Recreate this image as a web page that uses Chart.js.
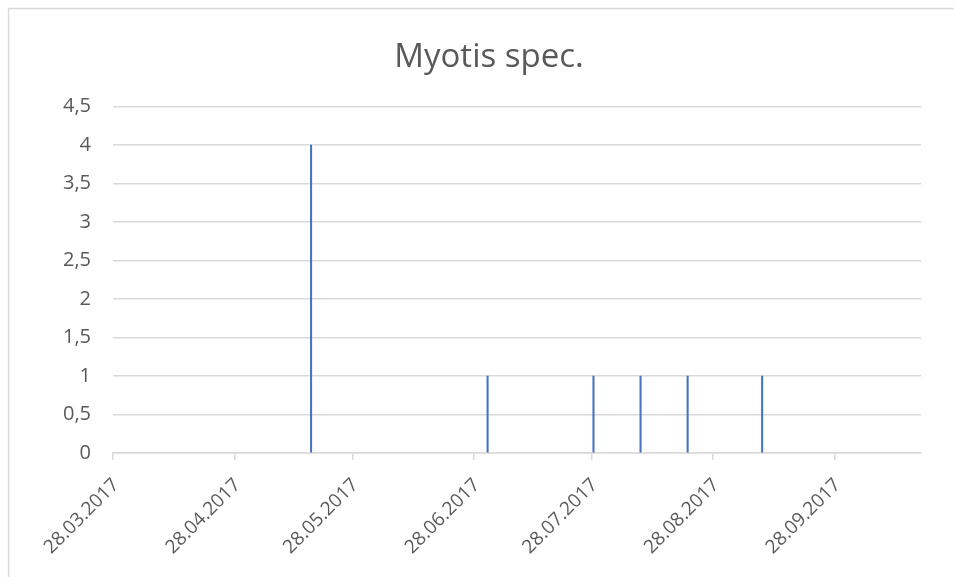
<!DOCTYPE html>
<html>
<head>
<meta charset="utf-8">
<script src="https://cdn.jsdelivr.net/npm/chart.js@4/dist/chart.umd.min.js"></script>
<style>
    html, body { margin: 0; padding: 0; background: #fff; }
    #wrap { width: 954px; height: 577px; position: relative; }
</style>
</head>
<body>
<div id="wrap"><canvas id="myotisChart" width="954" height="577"></canvas></div>
<script>
const chartTitle = 'Myotis spec.';
const visitDates = ['17.05.2017', '01.07.2017', '28.07.2017', '09.08.2017', '21.08.2017', '09.09.2017'];
const myotisCounts = [4, 1, 1, 1, 1, 1];
const tickDates = ['28.03.2017', '28.04.2017', '28.05.2017', '28.06.2017', '28.07.2017', '28.08.2017', '28.09.2017'];
const axisStart = '28.03.2017';
const axisEnd = '20.10.2017';
const yMin = 0, yMax = 4.5, yStep = 0.5;

/* ---------- Helpers ---------- */
function parseDay(str) {
    const [d, m, y] = str.split('.').map(Number);
    return Date.UTC(y, m - 1, d) / 86400000;
}
const day0 = parseDay(axisStart);
function dayIndex(str) {
    return parseDay(str) - day0;
}
function formatDay(idx) {
    const d = new Date((day0 + idx) * 86400000);
    const dd = String(d.getUTCDate()).padStart(2, '0');
    const mm = String(d.getUTCMonth() + 1).padStart(2, '0');
    return `${dd}.${mm}.${d.getUTCFullYear()}`;
}
function commaNum(v) {
    return String(v).replace('.', ',');
}

const GRID = '#d9d9d9';
const TEXT = '#595959';
const FONT = "'Open Sans', 'Liberation Sans', sans-serif";

// bars sit in the middle of their day slot, like a date axis in Excel
const points = visitDates.map((d, i) => ({ x: dayIndex(d) + 0.5, y: myotisCounts[i] }));

const frame = {
    id: 'frame',
    beforeDraw(chart) {
        const ctx = chart.ctx;
        ctx.save();
        ctx.strokeStyle = GRID;
        ctx.lineWidth = 1.5;
        ctx.beginPath();
        ctx.moveTo(8.5, chart.height);
        ctx.lineTo(8.5, 8.5);
        ctx.lineTo(chart.width, 8.5);
        ctx.stroke();
        ctx.restore();
    }
};

new Chart(document.getElementById('myotisChart').getContext('2d'), {
    type: 'bar',
    data: {
        datasets: [{
            label: chartTitle,
            data: points,
            backgroundColor: '#4472c4',
            borderWidth: 0,
            barThickness: 1.4
        }]
    },
    options: {
        responsive: false,
        animation: false,
        layout: { padding: { left: 57, right: 33, top: 0, bottom: 0 } },
        plugins: {
            legend: { display: false },
            tooltip: { enabled: false },
            title: {
                display: true,
                text: chartTitle,
                color: TEXT,
                font: { family: FONT, size: 33, weight: 'normal' },
                padding: { top: 38, bottom: 29 }
            }
        },
        scales: {
            x: {
                type: 'linear',
                min: 0,
                max: dayIndex(axisEnd),
                offset: false,
                afterBuildTicks: scale => {
                    scale.ticks = tickDates.map(d => ({ value: dayIndex(d) }));
                },
                afterFit: scale => { scale.height = 124; },
                ticks: {
                    autoSkip: false,
                    minRotation: 45,
                    maxRotation: 45,
                    padding: 14,
                    labelOffset: 3,
                    color: TEXT,
                    font: { family: FONT, size: 19 },
                    callback: v => formatDay(v)
                },
                grid: {
                    offset: false,
                    drawOnChartArea: false,
                    drawTicks: true,
                    tickLength: 7,
                    color: GRID,
                    lineWidth: 1.5
                },
                border: { display: true, color: GRID, width: 1.5 }
            },
            y: {
                min: yMin,
                max: yMax,
                afterFit: scale => { scale.width = 56; },
                ticks: {
                    stepSize: yStep,
                    padding: 22,
                    color: TEXT,
                    font: { family: FONT, size: 20 },
                    callback: v => commaNum(v)
                },
                grid: { color: GRID, lineWidth: 1.5, drawTicks: false },
                border: { display: false }
            }
        }
    },
    plugins: [frame]
});
</script>
</body>
</html>
